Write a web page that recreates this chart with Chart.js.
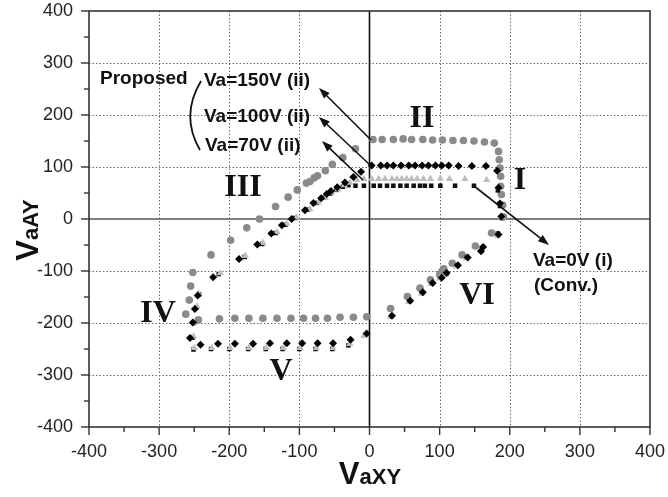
<!DOCTYPE html>
<html>
<head>
<meta charset="utf-8">
<script src="https://cdn.jsdelivr.net/npm/chart.js@4.4.1/dist/chart.umd.min.js"></script>
<style>
html,body{margin:0;padding:0;background:#fff;}
#wrap{width:668px;height:497px;}
</style>
</head>
<body>
<div id="wrap"><canvas id="c" width="668" height="497"></canvas></div>
<script>
// ---- data ----
const va150 = [[5,153],[18,153],[34,153],[48,154],[60,153],[76,153],[90,152],[104,152],[119,151],[134,151],[149,150],[164,148],[178,146],[184,130],[185,114],[186,98],[187,82],[187,63],[188,47],[190,27],[191,4],
 [174,-27],[151,-52],[132,-69],[118,-85],[106,-96],[103,-101],[100,-107],[87,-117],[72,-133],[54,-149],[30,-172],
 [-4,-188],[-23,-189],[-42,-189],[-60,-191],[-77,-191],[-94,-191],[-112,-191],[-132,-191],[-152,-191],[-172,-191],[-192,-191],[-214,-192],[-244,-194],[-262,-183],
 [-257,-156],[-255,-129],[-252,-103],[-226,-69],[-198,-41],[-175,-17],[-157,0],[-134,24],[-116,42],[-103,56],[-90,69],[-85,72],[-79,79],[-74,83],[-63,93],[-53,105],[-38,118],[-20,135]];
const va100 = [[3,103],[16,103],[25,103],[34,103],[45,103],[56,103],[65,103],[75,103],[84,103],[94,103],[103,103],[113,103],[127,102],[146,102],[166,102],[182,93],[184,60],[186,30],[188,5],
 [184,-30],[162,-54],[159,-62],[140,-74],[126,-89],[110,-104],[103,-113],[90,-123],[76,-141],[58,-157],[32,-186],
 [-4,-220],[-27,-232],[-52,-239],[-74,-239],[-96,-239],[-118,-239],[-142,-239],[-166,-240],[-192,-240],[-216,-240],[-241,-242],[-256,-229],
 [-252,-199],[-249,-173],[-245,-147],[-223,-112],[-186,-77],[-160,-49],[-140,-28],[-125,-12],[-111,0],[-92,17],[-80,31],[-69,40],[-61,48],[-55,54],[-46,61],[-35,70],[-23,81],[-12,91]];
const va70 = [[3,77],[13,77],[22,77],[32,77],[39,77],[46,77],[53,77],[60,77],[68,77],[77,77],[87,77],[101,78],[114,77],[136,77],[167,75],[183,60],[186,30],[188,3],
 [182,-32],[158,-58],[138,-76],[124,-91],[108,-106],[100,-114],[88,-125],[74,-143],[56,-159],[30,-188],
 [-8,-225],[-28,-240],[-52,-248],[-76,-248],[-99,-248],[-123,-248],[-147,-248],[-172,-248],[-199,-248],[-225,-248],[-250,-248],[-251,-226],
 [-250,-200],[-246,-168],[-244,-143],[-213,-104],[-177,-71],[-152,-46],[-132,-25],[-118,-9],[-104,3],[-85,19],[-73,32],[-63,41],[-54,50],[-45,57],[-36,65],[-28,70],[-18,75],[-8,77]];
const va0 = [[-20,64],[-8,64],[6,64],[15,64],[25,64],[34,64],[44,64],[53,64],[63,64],[72,64],[79,64],[88,64],[101,64],[122,64],[149,64],[183,55],[186,25],[188,2],
 [183,-28],[160,-57],[139,-73],[125,-89],[110,-105],[102,-112],[89,-124],[75,-142],[57,-158],[31,-187],
 [-30,-243],[-53,-250],[-77,-250],[-100,-250],[-124,-250],[-148,-250],[-173,-250],[-200,-250],[-226,-250],[-251,-251],
 [-252,-228],[-250,-200],[-247,-170],[-243,-145],[-215,-106],[-178,-73],[-153,-48],[-134,-27],[-120,-11],[-106,2],[-88,18],[-75,31],[-65,41],[-56,49],[-47,56],[-38,62],[-30,65]];
const tickVals = [-400,-300,-200,-100,0,100,200,300,400];
const seriesNames = ['Va=100V (ii)','Va=70V (ii)','Va=0V (i)','Va=150V (ii)'];

const toPts = a => a.map(p => ({x:p[0], y:p[1]}));
const SANS = '"Liberation Sans", Arial, sans-serif';
const SERIF = '"Liberation Serif", "Times New Roman", serif';

const decor = {
  id:'decor',
  beforeDatasetsDraw(chart){
    const {ctx, chartArea:a, scales:{x, y}} = chart;
    ctx.save();
    // dotted grid
    ctx.strokeStyle = '#666'; ctx.lineWidth = 1; ctx.setLineDash([1.5,2]);
    tickVals.forEach(v=>{
      if (v===0 || Math.abs(v)===400) return;
      const px = Math.round(x.getPixelForValue(v))+0.5;
      ctx.beginPath(); ctx.moveTo(px,a.top); ctx.lineTo(px,a.bottom); ctx.stroke();
      const py = Math.round(y.getPixelForValue(v))+0.5;
      ctx.beginPath(); ctx.moveTo(a.left,py); ctx.lineTo(a.right,py); ctx.stroke();
    });
    ctx.setLineDash([]);
    // zero axes
    ctx.strokeStyle = '#555'; ctx.lineWidth = 1.6;
    const y0 = y.getPixelForValue(0);
    ctx.beginPath(); ctx.moveTo(a.left,y0); ctx.lineTo(a.right,y0); ctx.stroke();
    ctx.strokeStyle = '#111'; ctx.lineWidth = 1.6;
    const x0 = x.getPixelForValue(0);
    ctx.beginPath(); ctx.moveTo(x0,a.top); ctx.lineTo(x0,a.bottom); ctx.stroke();
    // frame
    ctx.strokeStyle = '#333'; ctx.lineWidth = 1.6;
    ctx.strokeRect(a.left, a.top, a.right-a.left, a.bottom-a.top);
    // ticks
    ctx.lineWidth = 1.4;
    for (let v=-400; v<=400; v+=50){
      const major = v%100===0;
      const len = major?8:5;
      const px = x.getPixelForValue(v);
      ctx.beginPath(); ctx.moveTo(px,a.bottom); ctx.lineTo(px,a.bottom+len); ctx.stroke();
      const py = y.getPixelForValue(v);
      ctx.beginPath(); ctx.moveTo(a.left,py); ctx.lineTo(a.left-len,py); ctx.stroke();
    }
    ctx.restore();
  },
  afterDraw(chart){
    const {ctx} = chart;
    ctx.save();
    ctx.fillStyle = '#111'; ctx.strokeStyle = '#111';
    // labels
    ctx.font = 'bold 19px ' + SANS;
    ctx.textBaseline = 'alphabetic'; ctx.textAlign = 'left';
    ctx.fillText('Proposed', 100, 84);
    ctx.fillText('Va=150V (ii)', 204, 86);
    ctx.fillText('Va=100V (ii)', 204, 122);
    ctx.fillText('Va=70V (ii)', 205, 151);
    ctx.fillText('Va=0V (i)', 533, 266);
    ctx.fillText('(Conv.)', 534, 291);
    // bracket
    ctx.lineWidth = 1.8;
    ctx.beginPath(); ctx.moveTo(201,81); ctx.quadraticCurveTo(180,116,200,150); ctx.stroke();
    // arrows
    const arrow = (x1,y1,x2,y2)=>{
      ctx.lineWidth = 1.6;
      const ang = Math.atan2(y2-y1,x2-x1);
      const hl = 11, hw = 4;
      const bx = x2 - hl*Math.cos(ang), by = y2 - hl*Math.sin(ang);
      ctx.beginPath(); ctx.moveTo(x1,y1); ctx.lineTo(bx,by); ctx.stroke();
      ctx.beginPath();
      ctx.moveTo(x2,y2);
      ctx.lineTo(bx + hw*Math.sin(ang), by - hw*Math.cos(ang));
      ctx.lineTo(bx - hw*Math.sin(ang), by + hw*Math.cos(ang));
      ctx.closePath(); ctx.fill();
    };
    arrow(371,140,319,88);
    arrow(369,164,319,117);
    arrow(363,180,322,141);
    arrow(474,186,549,245);
    // roman numerals
    ctx.font = 'bold 32px ' + SERIF;
    ctx.textAlign = 'center'; ctx.textBaseline = 'middle';
    ctx.fillText('II', 422, 119);
    ctx.fillText('I', 520, 181);
    ctx.fillText('III', 243, 188);
    ctx.fillText('IV', 158, 314);
    ctx.fillText('V', 281, 372);
    ctx.fillText('VI', 477, 296);
    // axis titles
    ctx.textBaseline = 'alphabetic'; ctx.textAlign = 'left';
    const drawTitle = (sub, cx, cy, rot)=>{
      ctx.save();
      ctx.translate(cx, cy);
      if (rot) ctx.rotate(-Math.PI/2);
      ctx.font = 'bold 31px ' + SANS;
      const w1 = ctx.measureText('V').width;
      ctx.font = 'bold 22px ' + SANS;
      const w2 = ctx.measureText(sub).width;
      const start = -(w1+w2)/2;
      ctx.font = 'bold 31px ' + SANS;
      ctx.fillText('V', start, 0);
      ctx.font = 'bold 22px ' + SANS;
      ctx.fillText(sub, start + w1, 0);
      ctx.restore();
    };
    drawTitle('aXY', 370, 484, false);
    drawTitle('aAY', 38, 230, true);
    ctx.restore();
  }
};

const fixPad = s => { s.paddingTop = 0; s.paddingBottom = 0; s.paddingLeft = 0; s.paddingRight = 0; };

new Chart(document.getElementById('c'), {
  type:'scatter',
  data:{
    datasets:[
      {label:seriesNames[0], data:toPts(va100), pointStyle:'rectRot', pointRadius:4, backgroundColor:'#000', borderColor:'#000', borderWidth:0},
      {label:seriesNames[1], data:toPts(va70), pointStyle:'triangle', pointRadius:4.2, backgroundColor:'#bdbdbd', borderColor:'#bdbdbd', borderWidth:0},
      {label:seriesNames[2], data:toPts(va0), pointStyle:'rect', pointRadius:3.2, backgroundColor:'#111', borderColor:'#111', borderWidth:0},
      {label:seriesNames[3], data:toPts(va150), pointStyle:'circle', pointRadius:3.8, backgroundColor:'#8a8a8a', borderColor:'#8a8a8a', borderWidth:0}
    ]
  },
  options:{
    responsive:false, animation:false, devicePixelRatio:1,
    layout:{padding:{left:0,right:18,top:11,bottom:0}},
    plugins:{legend:{display:false}, tooltip:{enabled:false}},
    scales:{
      x:{type:'linear', min:-400, max:400,
        afterBuildTicks(s){ s.ticks = tickVals.map(v=>({value:v})); },
        afterFit(s){ s.height = 70; fixPad(s); },
        ticks:{font:{size:18, family:SANS}, color:'#222', padding:14, maxRotation:0},
        grid:{display:false, drawTicks:false}, border:{display:false}},
      y:{type:'linear', min:-400, max:400,
        afterBuildTicks(s){ s.ticks = tickVals.map(v=>({value:v})); },
        afterFit(s){ s.width = 89; fixPad(s); },
        ticks:{font:{size:18, family:SANS}, color:'#222', padding:16},
        grid:{display:false, drawTicks:false}, border:{display:false}}
    }
  },
  plugins:[decor]
});
</script>
</body>
</html>
